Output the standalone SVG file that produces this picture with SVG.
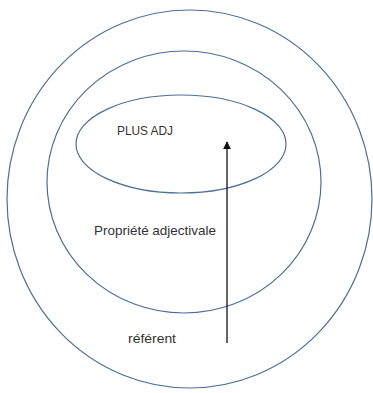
<svg xmlns="http://www.w3.org/2000/svg" width="373" height="393" viewBox="0 0 373 393">
<defs>
<style>
.e{fill:none;stroke:#4d6f96;stroke-width:1.2}
.t{font-family:"Liberation Sans",Arial,sans-serif;font-size:13px;fill:#333}
</style>
<marker id="ah" viewBox="0 0 10 10" refX="9" refY="5" markerWidth="8" markerHeight="8" markerUnits="userSpaceOnUse" orient="auto">
<path d="M0,0 L10,5 L0,10 z" fill="#111"/>
</marker>
</defs>
<rect width="373" height="393" fill="#fff"/>
<g id="outer"><ellipse class="e" cx="189.5" cy="199" rx="182.5" ry="189"/><text class="t" x="128" y="343" textLength="48" lengthAdjust="spacingAndGlyphs">référent</text></g>
<g id="middle"><ellipse class="e" cx="184" cy="182" rx="137" ry="131"/><text class="t" x="94" y="235" textLength="122" lengthAdjust="spacingAndGlyphs">Propriété adjectivale</text></g>
<g id="inner"><ellipse class="e" cx="181" cy="144" rx="105" ry="49"/><text class="t" x="117" y="135" textLength="56" lengthAdjust="spacingAndGlyphs">PLUS ADJ</text></g>
<g id="connectors"><line x1="227" y1="343" x2="227" y2="142" stroke="#111" stroke-width="1.3" marker-end="url(#ah)"/></g>
</svg>
